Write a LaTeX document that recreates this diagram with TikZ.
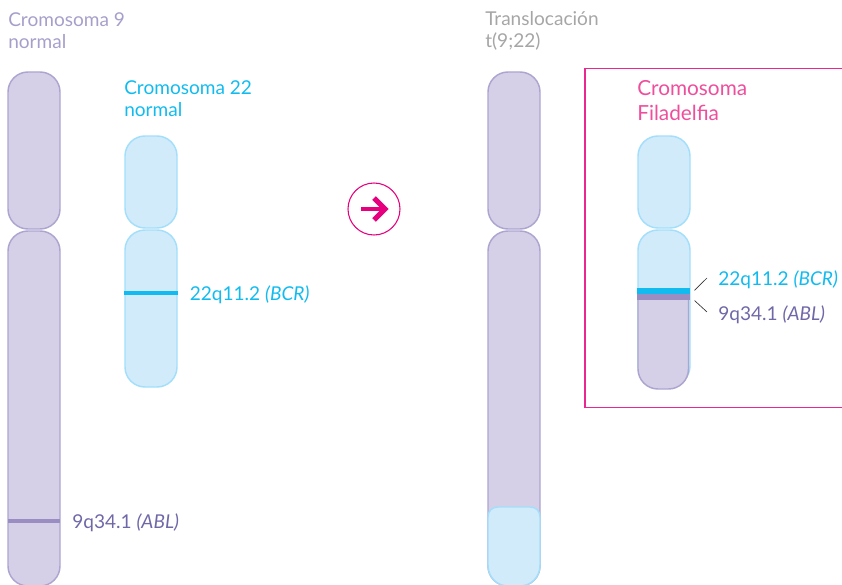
\documentclass[tikz,border=0pt]{standalone}
\usepackage{fontspec}
\setmainfont{Lato}
\definecolor{pfill}{HTML}{D5D0E7}
\definecolor{pline}{HTML}{ADA5D0}
\definecolor{bfill}{HTML}{D2EBFB}
\definecolor{bline}{HTML}{A3DFFA}
\definecolor{cyanb}{HTML}{12BBEF}
\definecolor{pband}{HTML}{998DC1}
\definecolor{ptext}{HTML}{6F68A8}
\definecolor{gtext}{HTML}{A6A6A6}
\definecolor{ltext}{HTML}{A79FCB}
\definecolor{pink}{HTML}{E6007E}
\definecolor{phila}{HTML}{EE4E9B}
\tikzset{
 parm/.style={draw=pline,fill=pfill,line width=1.1pt},
 barm/.style={draw=bline,fill=bfill,line width=1.1pt},
 lbl/.style={anchor=west,inner sep=0pt,font=\fontsize{14.3pt}{16.5pt}\selectfont,align=left},
 tick/.style={draw=black!80,line width=.5pt}
}
\newcommand{\armshape}[5]{% style,x0,x1,y0,y1
 \draw[#1,rounded corners=15pt] (#2,#4) rectangle (#3,#5);}
\begin{document}
\begin{tikzpicture}[x=.75pt,y=-.75pt]
\useasboundingbox (0,0) rectangle (842,585);
% box
\draw[draw=pink!85!white,line width=.8pt] (843,68.5) -- (585,68.5) -- (585,407.5) -- (843,407.5);
% left chromosome 9
\armshape{parm}{8}{60}{72}{229}
\armshape{parm}{8}{60}{231}{586}
\coordinate (a1) at (8,521); \coordinate (a2) at (60,521);
\draw[pband,line width=3.6pt] (a1) -- (a2);
\node[lbl,text=ltext] (t9) at (8,31) {Cromosoma 9\\normal};
\node[lbl,text=ptext] (l9) at (72,523) {9q34.1 \textit{(ABL)}};
% chromosome 22
\armshape{barm}{125}{177}{136}{228}
\armshape{barm}{125}{177}{230}{387}
\coordinate (b1) at (124,293); \coordinate (b2) at (178,293);
\draw[cyanb,line width=3.6pt] (b1) -- (b2);
\node[lbl,text=cyanb] (t22) at (124,98.5) {Cromosoma 22\\normal};
\node[lbl,text=cyanb] (l22) at (189.5,295) {22q11.2 \textit{(BCR)}};
% arrow
\node[circle,draw=pink,line width=.8pt,minimum size=39pt,inner sep=0pt] (arrow) at (374,209) {};
\coordinate (ar1) at (361,209); \coordinate (ar2) at (384.5,209);
\draw[pink,line width=3.6pt] (ar1) -- (ar2);
\draw[pink,line width=3.9pt] (374,198) -- (385,209) -- (374,220);
% translocation
\armshape{parm}{488}{540}{72}{229}
\armshape{parm}{488}{540}{231}{586}
\draw[barm] (488,560) -- (488,517) .. controls (488,511) and (492,507) .. (498,507) -- (530,507) .. controls (536,507) and (540,511) .. (540,517) -- (540,565) .. controls (540,578) and (530,586) .. (520,586) -- (508,586) .. controls (498,586) and (488,578) .. (488,565) -- cycle;
\node[lbl,text=gtext] (t3) at (485,31) {Translocación\\t(9;22)};
% philadelphia
\armshape{barm}{638}{690}{136}{228}
\armshape{barm}{638}{690}{230}{386}
\draw[parm,rounded corners=15pt] (638,296) -- (638,389) -- (688.5,389) -- (688.5,296);
\fill[pfill] (638.6,296) rectangle (687.9,300);
\coordinate (c1) at (636.5,291); \coordinate (c2) at (690,291);
\coordinate (d1) at (636.5,297.3); \coordinate (d2) at (690,297.3);
\draw[pband,line width=4.7pt] (d1) -- (d2);
\draw[cyanb,line width=4.5pt] (c1) -- (c2);
\node[lbl,text=phila,font=\fontsize{15.6pt}{18.75pt}\selectfont] (t4) at (637,101) {Cromosoma\\Filadelfia};
\node[lbl,text=cyanb] (l22b) at (718,280) {22q11.2 \textit{(BCR)}};
\node[lbl,text=ptext] (l9b) at (718,315) {9q34.1 \textit{(ABL)}};
\coordinate (e1) at (694.5,290.3); \coordinate (e2) at (707,278);
\coordinate (f1) at (694.5,300.5); \coordinate (f2) at (707,312);
\draw[tick] (e1) -- (e2);
\draw[tick] (f1) -- (f2);
\end{tikzpicture}
\end{document}
